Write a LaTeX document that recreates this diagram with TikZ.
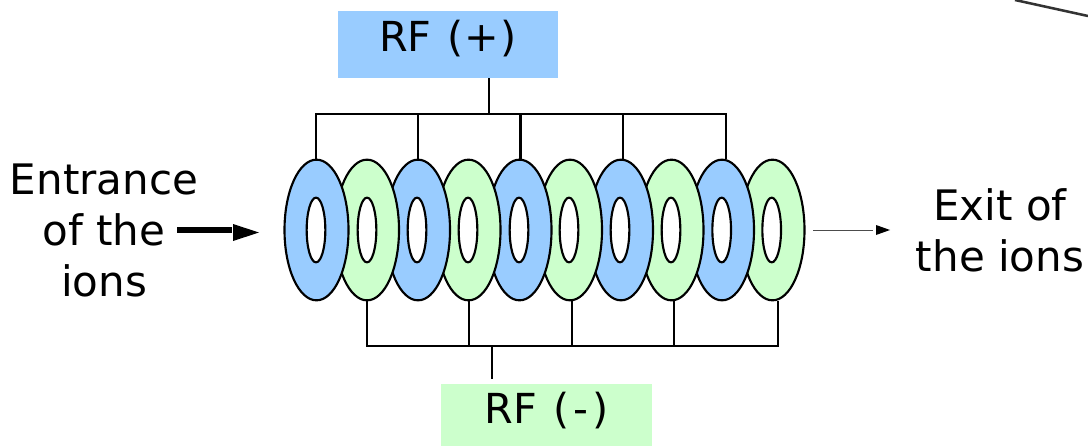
\documentclass[tikz,border=0pt]{standalone}
\usepackage{fontspec}
\setmainfont{DejaVu Sans}
\usetikzlibrary{shapes.geometric,arrows.meta}
\definecolor{ringblue}{HTML}{99CCFF}
\definecolor{ringgreen}{HTML}{CCFFCC}
\tikzset{
  x=0.75pt,y=-0.75pt,
  ring/.style={ellipse,draw=black,line width=1.6pt,inner sep=0pt,minimum width=48pt,minimum height=105.5pt},
  hole/.style={ellipse,draw=black,fill=white,line width=1.6pt,inner sep=0pt,minimum width=14pt,minimum height=48.5pt},
  wire/.style={draw=black,line width=1.6pt},
  rfbox/.style={inner sep=0pt,outer sep=0pt,text=black,font=\fontsize{31}{36}\selectfont},
  lbl/.style={align=center,inner sep=0pt,text=black,font=\fontsize{31.5}{38.25}\selectfont},
}
\begin{document}
\begin{tikzpicture}
\useasboundingbox (0,0) rectangle (1088,446);
% rings, right to left so the left ring lies on top
\foreach \n/\xx/\hx/\cc in {g5/772.5/771.7/ringgreen,b5/722/721.7/ringblue,g4/671.5/671/ringgreen,b4/621/620/ringblue,g3/570/569/ringgreen,b3/519.5/519/ringblue,g2/468.5/468/ringgreen,b2/418/417/ringblue,g1/367/367/ringgreen,b1/316.5/316/ringblue}{
  \node[ring,fill=\cc] (\n) at (\xx,230) {};
  \node[hole] (h\n) at (\hx,230) {};
}
% boxes
\node[rfbox,fill=ringblue,minimum width=165pt,text height=30pt,text depth=20.25pt] (rfp) at (448,44.5) {RF\hspace{2pt} (\kern1pt+\kern1pt)};
\node[rfbox,fill=ringgreen,minimum width=158.25pt,text height=29.25pt,text depth=17.25pt] (rfm) at (546.5,415) {RF\hspace{2pt} (\kern3pt-\kern3pt)};
% top bus: wire ends on the ring tops
\coordinate (tbus) at (488.7,114);
\foreach \n/\xx in {tw1/316,tw2/418.3,tw3/520.5,tw4/623.3,tw5/726}{\coordinate (\n) at (\xx,159);}
\draw[wire,line join=miter] (tw1) |- (tbus) -- (rfp.south -| tbus);
\draw[wire,line join=miter] (tw1 |- tbus) -| (tw5);
\foreach \n in {tw2,tw3,tw4}{\draw[wire] (\n) -- (\n |- tbus);}
% bottom bus: wire ends on the ring bottoms
\coordinate (bbus) at (492,345.7);
\coordinate (bstem) at (492,379);
\foreach \n/\xx in {bw1/367.3,bw2/469.3,bw3/571.7,bw4/674.3,bw5/777.7}{\coordinate (\n) at (\xx,301);}
\draw[wire] (bw1) |- (bbus) -- (bstem);
\draw[wire] (bw1 |- bbus) -| (bw5);
\foreach \n in {bw2,bw3,bw4}{\draw[wire] (\n) -- (\n |- bbus);}
% labels
\node[lbl] (ent) at (104,230) {Entrance\\of the\\ions};
\node[lbl] (ext) at (1000,230) {Exit of\\the ions};
% arrows
\coordinate (a1) at (177,230);
\coordinate (a2) at (259,232.5);
\coordinate (a1t) at (232,230);
\draw[black,line width=4pt] (a1) -- (a1t);
\fill[black] (233,224) -- (a2) -- (233,241) -- cycle;
\coordinate (e1) at (813,230);
\coordinate (e1t) at (873,230);
\coordinate (e2) at (890,230);
\draw[black!70,line width=0.6pt] (e1) -- (e1t);
\fill[black] (876,225) -- (e2) -- (876,235) -- cycle;
% stray edge at the top right
\coordinate (s1) at (1015,0);
\coordinate (s2) at (1088,16);
\draw[black!80,line width=1.9pt] (s1) -- (s2);
\end{tikzpicture}
\end{document}
